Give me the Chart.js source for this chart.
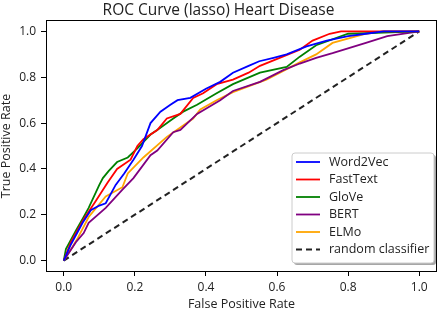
<!DOCTYPE html>
<html>
<head>
<meta charset="utf-8">
<script src="https://cdn.jsdelivr.net/npm/chart.js@4.4.1/dist/chart.umd.min.js"></script>
<style>
  html, body { margin: 0; padding: 0; background: #fff; }
  #wrap { width: 440px; height: 309px; }
</style>
</head>
<body>
<div id="wrap"><canvas id="roc" width="440" height="309"></canvas></div>
<script>
// valores (FPR, TPR)
const word2vecFpr = [0, 0.02, 0.053, 0.076, 0.1, 0.118, 0.146, 0.17, 0.196, 0.22, 0.244, 0.272, 0.3, 0.32, 0.356, 0.40, 0.44, 0.476, 0.52, 0.55, 0.59, 0.627, 0.683, 0.74, 0.80, 0.85, 0.9, 1.0];
const word2vecTpr = [0, 0.07, 0.165, 0.22, 0.24, 0.25, 0.33, 0.38, 0.44, 0.50, 0.60, 0.65, 0.68, 0.70, 0.71, 0.75, 0.78, 0.82, 0.85, 0.87, 0.885, 0.90, 0.935, 0.96, 0.98, 0.99, 1.0, 1.0];

const fasttextFpr = [0, 0.02, 0.056, 0.09, 0.123, 0.15, 0.188, 0.207, 0.224, 0.263, 0.29, 0.328, 0.364, 0.392, 0.43, 0.476, 0.52, 0.552, 0.616, 0.664, 0.70, 0.748, 0.78, 0.85, 1.0];
const fasttextTpr = [0, 0.08, 0.18, 0.26, 0.34, 0.40, 0.44, 0.50, 0.53, 0.57, 0.62, 0.64, 0.71, 0.73, 0.77, 0.79, 0.82, 0.85, 0.89, 0.92, 0.96, 0.99, 1.0, 1.0, 1.0];

const gloveFpr = [0, 0.006, 0.034, 0.056, 0.07, 0.10, 0.11, 0.126, 0.15, 0.18, 0.207, 0.244, 0.263, 0.308, 0.336, 0.375, 0.43, 0.476, 0.552, 0.627, 0.664, 0.71, 0.80, 0.9, 1.0];
const gloveTpr = [0, 0.05, 0.13, 0.19, 0.23, 0.33, 0.36, 0.39, 0.43, 0.45, 0.49, 0.55, 0.57, 0.62, 0.65, 0.68, 0.73, 0.77, 0.82, 0.845, 0.89, 0.94, 0.99, 0.995, 1.0];

const bertFpr = [0, 0.034, 0.056, 0.07, 0.118, 0.165, 0.196, 0.244, 0.263, 0.308, 0.328, 0.375, 0.44, 0.476, 0.552, 0.616, 0.664, 0.71, 0.756, 0.85, 0.91, 1.0];
const bertTpr = [0, 0.08, 0.12, 0.165, 0.23, 0.31, 0.36, 0.46, 0.48, 0.56, 0.57, 0.64, 0.70, 0.74, 0.78, 0.83, 0.86, 0.885, 0.905, 0.95, 0.98, 1.0];

const elmoFpr = [0, 0.025, 0.04, 0.07, 0.118, 0.165, 0.18, 0.224, 0.29, 0.364, 0.384, 0.43, 0.476, 0.57, 0.664, 0.71, 0.756, 0.85, 0.9, 1.0];
const elmoTpr = [0, 0.06, 0.10, 0.19, 0.28, 0.32, 0.38, 0.45, 0.54, 0.62, 0.66, 0.70, 0.735, 0.79, 0.865, 0.90, 0.95, 0.99, 1.0, 1.0];

const randomFpr = [0, 1];
const randomTpr = [0, 1];

const xTicks = [0, 0.2, 0.4, 0.6, 0.8, 1.0];
const yTicks = [0, 0.2, 0.4, 0.6, 0.8, 1.0];

const FAMILY = "'Open Sans'";

// acha o tamanho de fonte que dá a largura desejada
function fitSize(text, width) {
    const c = document.createElement("canvas").getContext("2d");
    c.font = "20px " + FAMILY;
    return Math.round(20 * width / c.measureText(text).width * 2) / 2;
}

const titleSize = fitSize("ROC Curve (lasso) Heart Disease", 230);
const labelSize = fitSize("False Positive Rate", 108);
const tickSize = fitSize("0.0", 17);
const legendSize = fitSize("random classifier", 99);

function toPoints(xs, ys) {
    return xs.map((x, i) => ({ x: x, y: ys[i] }));
}

function curve(label, xs, ys, color) {
    return {
        label: label,
        data: toPoints(xs, ys),
        borderColor: color,
        backgroundColor: color,
        borderWidth: 1.8,
        pointRadius: 0,
        tension: 0,
        fill: false
    };
}

// moldura completa + legenda no estilo matplotlib
const framePlugin = {
    id: "frame",
    afterDraw(chart) {
        const ctx = chart.ctx;
        const a = chart.chartArea;
        ctx.save();
        ctx.strokeStyle = "#000";
        ctx.lineWidth = 1;
        ctx.strokeRect(Math.round(a.left) + 0.5, Math.round(a.top) + 0.5,
            Math.round(a.right - a.left) - 1, Math.round(a.bottom - a.top) - 1);

        // legenda
        const bx = 292, by = 153, bw = 142, bh = 110;
        ctx.fillStyle = "rgba(0,0,0,0.35)";
        ctx.beginPath();
        ctx.roundRect(bx + 2, by + 2, bw, bh, 3);
        ctx.fill();
        ctx.fillStyle = "#fff";
        ctx.strokeStyle = "#ccc";
        ctx.beginPath();
        ctx.roundRect(bx, by, bw, bh, 3);
        ctx.fill();
        ctx.stroke();

        ctx.font = legendSize + "px " + FAMILY;
        ctx.textBaseline = "middle";
        chart.data.datasets.forEach((ds, i) => {
            const yy = 162 + i * 17.5;
            ctx.strokeStyle = ds.borderColor;
            ctx.lineWidth = ds.borderWidth;
            ctx.setLineDash(ds.borderDash || []);
            ctx.beginPath();
            ctx.moveTo(296, yy);
            ctx.lineTo(320, yy);
            ctx.stroke();
            ctx.setLineDash([]);
            ctx.fillStyle = "#222";
            ctx.fillText(ds.label, 329, yy);
        });
        ctx.restore();
    }
};

const ctx = document.getElementById("roc").getContext("2d");
new Chart(ctx, {
    type: "line",
    data: {
        datasets: [
            curve("Word2Vec", word2vecFpr, word2vecTpr, "#0000ff"),
            curve("FastText", fasttextFpr, fasttextTpr, "#ff0000"),
            curve("GloVe", gloveFpr, gloveTpr, "#008000"),
            curve("BERT", bertFpr, bertTpr, "#800080"),
            curve("ELMo", elmoFpr, elmoTpr, "#ffa500"),
            {
                label: "random classifier",
                data: toPoints(randomFpr, randomTpr),
                borderColor: "#222",
                borderWidth: 2,
                borderDash: [6, 4],
                pointRadius: 0,
                fill: false
            }
        ]
    },
    options: {
        responsive: false,
        animation: false,
        layout: { padding: { top: 0, right: 3, left: 0, bottom: 0 } },
        plugins: {
            legend: { display: false },
            tooltip: { enabled: false },
            title: {
                display: true,
                text: "ROC Curve (lasso) Heart Disease",
                color: "#222",
                font: { family: FAMILY, size: titleSize, weight: "normal", lineHeight: 1.2 },
                padding: { top: 1, bottom: 20 - 1 - titleSize * 1.2 }
            }
        },
        scales: {
            x: {
                type: "linear",
                min: -0.05,
                max: 1.05,
                afterFit(scale) { scale.height = 37; },
                afterBuildTicks(scale) { scale.ticks = xTicks.map(v => ({ value: v })); },
                grid: { display: true, drawOnChartArea: false, drawTicks: true, tickLength: 4, color: "#000" },
                border: { display: false },
                ticks: {
                    color: "#222",
                    padding: 4,
                    maxRotation: 0,
                    font: { family: FAMILY, size: tickSize },
                    callback: v => v.toFixed(1)
                },
                title: {
                    display: true,
                    text: "False Positive Rate",
                    color: "#222",
                    font: { family: FAMILY, size: labelSize, lineHeight: 1.1 },
                    padding: { top: 0, bottom: -2 }
                }
            },
            y: {
                type: "linear",
                min: -0.05,
                max: 1.05,
                afterFit(scale) { scale.width = 46; },
                afterBuildTicks(scale) { scale.ticks = yTicks.map(v => ({ value: v })); },
                grid: { display: true, drawOnChartArea: false, drawTicks: true, tickLength: 5, color: "#000" },
                border: { display: false },
                ticks: {
                    color: "#222",
                    padding: 5,
                    font: { family: FAMILY, size: tickSize },
                    callback: v => v.toFixed(1)
                },
                title: {
                    display: true,
                    text: "True Positive Rate",
                    color: "#222",
                    font: { family: FAMILY, size: labelSize, lineHeight: 1.1 },
                    padding: { top: 0, bottom: 1 }
                }
            }
        }
    },
    plugins: [framePlugin]
});
</script>
</body>
</html>
